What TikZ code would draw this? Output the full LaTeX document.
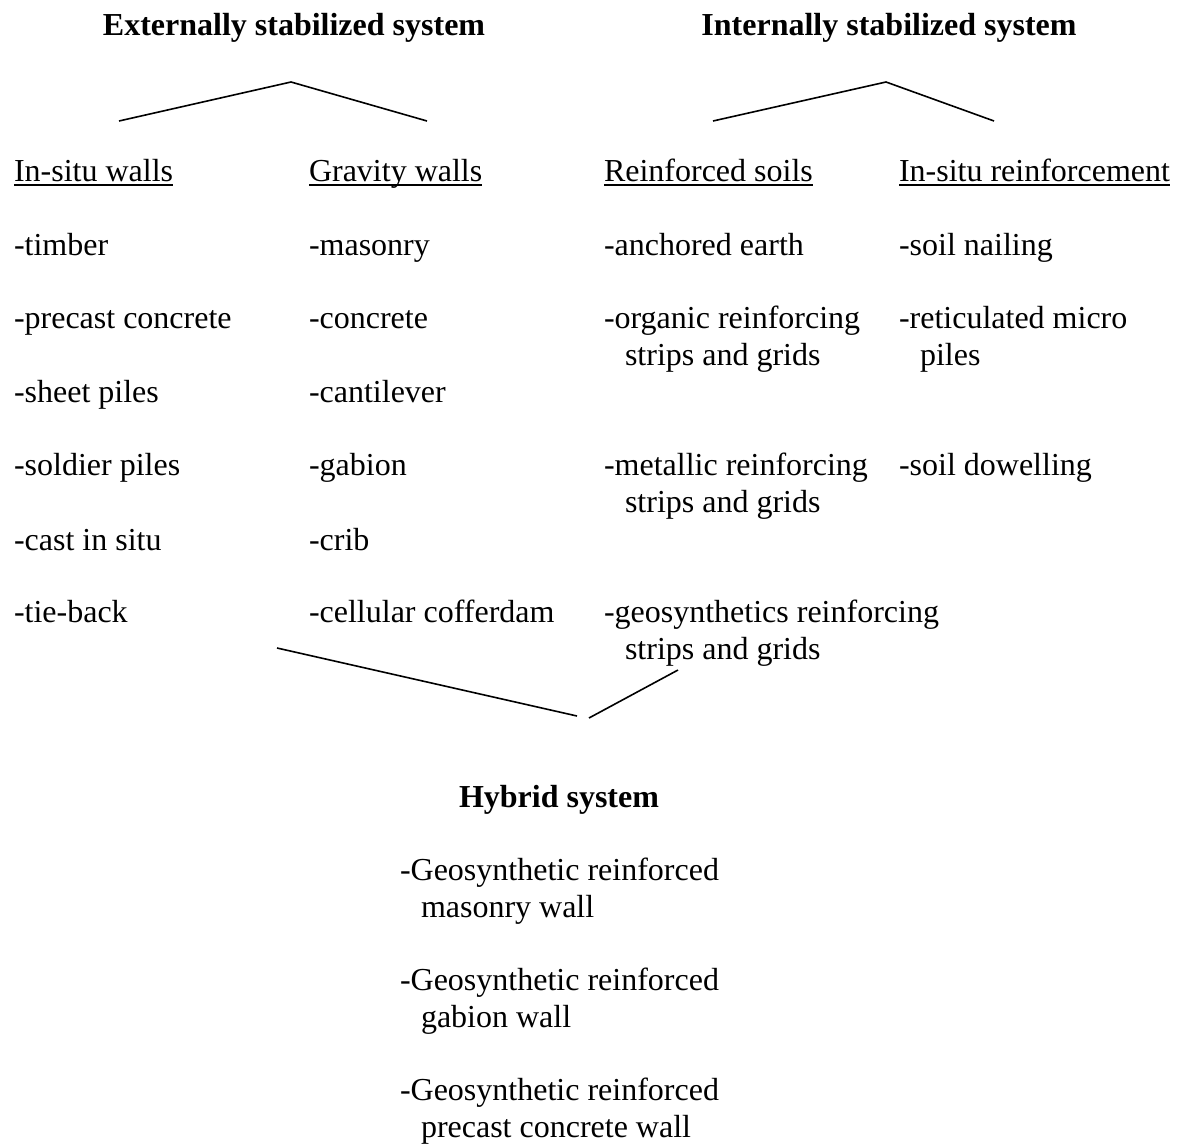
\documentclass[tikz,border=0pt]{standalone}
\usepackage{fontspec}
\setmainfont{Liberation Serif}
\begin{document}
\begin{tikzpicture}[x=1pt,y=-1pt,
  txt/.style={anchor=base west,inner sep=0pt,outer sep=0pt,font=\fontsize{32}{37}\selectfont,align=left},
  ttl/.style={anchor=base,inner sep=0pt,outer sep=0pt,font=\fontsize{32}{37}\selectfont\bfseries},
  conn/.style={line width=1.6pt},
  uline/.style={line width=1.5pt}]
\useasboundingbox (0,0) rectangle (1185,1143);
\def\ind{\hspace*{21pt}}
% titles
\node[ttl] (ext) at (294,35) {Externally stabilized system};
\node[ttl] (int) at (889,35) {Internally stabilized system};
% headers
\node[txt] (h1) at (14,181) {In-situ walls};
\node[txt] (h2) at (309,181) {Gravity walls};
\node[txt] (h3) at (604,181) {Reinforced soils};
\node[txt] (h4) at (899,181) {In-situ reinforcement};
\foreach \n in {h1,h2,h3,h4}
  \draw[uline] ([yshift=-4pt]\n.base west) -- ([yshift=-4pt]\n.base east);
% column 1
\node[txt] (a1) at (14,255) {-timber};
\node[txt] (a2) at (14,328) {-precast concrete};
\node[txt] (a3) at (14,402) {-sheet piles};
\node[txt] (a4) at (14,475) {-soldier piles};
\node[txt] (a5) at (14,550) {-cast in situ};
\node[txt] (a6) at (14,622) {-tie-back};
% column 2
\node[txt] (b1) at (309,255) {-masonry};
\node[txt] (b2) at (309,328) {-concrete};
\node[txt] (b3) at (309,402) {-cantilever};
\node[txt] (b4) at (309,475) {-gabion};
\node[txt] (b5) at (309,550) {-crib};
\node[txt] (b6) at (309,622) {-cellular cofferdam};
% column 3 (multi-line nodes: base is the last line)
\node[txt] (c1) at (604,255) {-anchored earth};
\node[txt] (c2) at (604,365) {-organic reinforcing\\\ind strips and grids};
\node[txt] (c3) at (604,512) {-metallic reinforcing\\\ind strips and grids};
\node[txt] (c4) at (604,659) {-geosynthetics reinforcing\\\ind strips and grids};
% column 4
\node[txt] (d1) at (899,255) {-soil nailing};
\node[txt] (d2) at (899,365) {-reticulated micro\\\ind piles};
\node[txt] (d3) at (899,475) {-soil dowelling};
% hybrid
\node[ttl] (hyb) at (559,807) {Hybrid system};
\node[txt] (e1) at (400,917) {-Geosynthetic reinforced\\\ind masonry wall};
\node[txt] (e2) at (400,1027) {-Geosynthetic reinforced\\\ind gabion wall};
\node[txt] (e3) at (400,1137) {-Geosynthetic reinforced\\\ind precast concrete wall};
% connectors
\coordinate (L1) at (119,121);
\coordinate (LA) at (291,82);
\coordinate (L2) at (427,121);
\coordinate (R1) at (713,121);
\coordinate (RA) at (886,82);
\coordinate (R2) at (994,121);
\coordinate (H1) at (277,648);
\coordinate (H2) at (577,716);
\coordinate (H3) at (589,718);
\coordinate (H4) at (678,670);
\draw[conn] (L1) -- (LA) -- (L2);
\draw[conn] (R1) -- (RA) -- (R2);
\draw[conn] (H1) -- (H2);
\draw[conn] (H3) -- (H4);
\end{tikzpicture}
\end{document}
